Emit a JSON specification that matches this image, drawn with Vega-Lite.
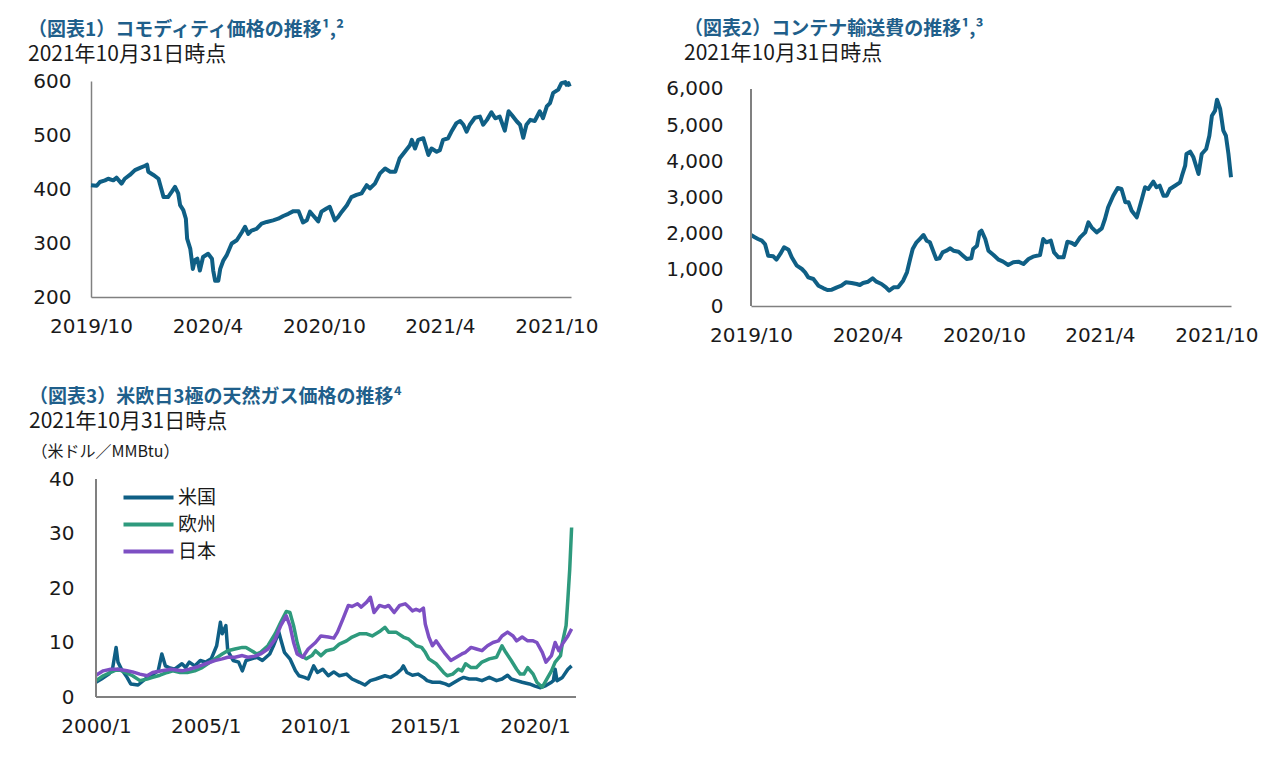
{
  "$schema": "https://vega.github.io/schema/vega-lite/v6.json",
  "autosize": {"type": "pad"},
  "padding": {"left": 28, "top": 19, "right": 5, "bottom": 5},
  "background": "white",
  "config": {
    "view": {"stroke": null},
    "font": "DejaVu Sans",
    "axis": {"ticks": false, "grid": false, "labelFont": "DejaVu Sans", "labelFontSize": 20, "labelColor": "#1a1a1a", "domainColor": "#808080", "domainWidth": 1.5, "labelFlush": false, "labelOverlap": false, "labelBound": false},
    "axisX": {"labelPadding": 19},
    "axisY": {"labelPadding": 20},
    "title": {"anchor": "start", "frame": "group", "font": "Noto Sans CJK JP", "fontSize": 19, "fontWeight": "bold", "color": "#1f5f8b", "subtitleFont": "Noto Sans CJK JP", "subtitleFontSize": 21, "subtitleColor": "#1a1a1a", "subtitlePadding": 4, "offset": 6}
  },
  "datasets": {
    "commodity": [
      {"date": "2019-10-01", "value": 407}, {"date": "2019-10-10", "value": 406}, {"date": "2019-10-15", "value": 413}, {"date": "2019-10-23", "value": 416},
      {"date": "2019-10-28", "value": 419}, {"date": "2019-11-05", "value": 416}, {"date": "2019-11-10", "value": 421}, {"date": "2019-11-18", "value": 410},
      {"date": "2019-11-23", "value": 419}, {"date": "2019-12-01", "value": 426}, {"date": "2019-12-09", "value": 435}, {"date": "2019-12-17", "value": 439},
      {"date": "2019-12-25", "value": 443}, {"date": "2019-12-28", "value": 445}, {"date": "2019-12-30", "value": 432}, {"date": "2020-01-07", "value": 426},
      {"date": "2020-01-15", "value": 419}, {"date": "2020-01-23", "value": 385}, {"date": "2020-01-30", "value": 385}, {"date": "2020-02-05", "value": 395},
      {"date": "2020-02-10", "value": 404}, {"date": "2020-02-15", "value": 392}, {"date": "2020-02-18", "value": 370}, {"date": "2020-02-23", "value": 361},
      {"date": "2020-02-27", "value": 345}, {"date": "2020-02-29", "value": 308}, {"date": "2020-03-05", "value": 289}, {"date": "2020-03-09", "value": 252},
      {"date": "2020-03-12", "value": 268}, {"date": "2020-03-16", "value": 271}, {"date": "2020-03-20", "value": 249}, {"date": "2020-03-25", "value": 274},
      {"date": "2020-04-02", "value": 280}, {"date": "2020-04-08", "value": 271}, {"date": "2020-04-10", "value": 249}, {"date": "2020-04-13", "value": 230},
      {"date": "2020-04-18", "value": 230}, {"date": "2020-04-21", "value": 252}, {"date": "2020-04-26", "value": 268}, {"date": "2020-05-01", "value": 277},
      {"date": "2020-05-09", "value": 299}, {"date": "2020-05-17", "value": 305}, {"date": "2020-05-25", "value": 320}, {"date": "2020-05-30", "value": 330},
      {"date": "2020-06-04", "value": 317}, {"date": "2020-06-09", "value": 323}, {"date": "2020-06-17", "value": 326}, {"date": "2020-06-25", "value": 336},
      {"date": "2020-07-03", "value": 339}, {"date": "2020-07-13", "value": 342}, {"date": "2020-07-21", "value": 345}, {"date": "2020-07-29", "value": 350},
      {"date": "2020-08-06", "value": 354}, {"date": "2020-08-14", "value": 359}, {"date": "2020-08-22", "value": 359}, {"date": "2020-08-29", "value": 338},
      {"date": "2020-09-04", "value": 342}, {"date": "2020-09-09", "value": 358}, {"date": "2020-09-14", "value": 351}, {"date": "2020-09-22", "value": 340},
      {"date": "2020-09-27", "value": 358}, {"date": "2020-10-05", "value": 364}, {"date": "2020-10-10", "value": 367}, {"date": "2020-10-18", "value": 342},
      {"date": "2020-10-23", "value": 348}, {"date": "2020-10-29", "value": 358}, {"date": "2020-11-06", "value": 370}, {"date": "2020-11-13", "value": 385},
      {"date": "2020-11-21", "value": 389}, {"date": "2020-11-29", "value": 392}, {"date": "2020-12-07", "value": 407}, {"date": "2020-12-12", "value": 401},
      {"date": "2020-12-20", "value": 410}, {"date": "2020-12-28", "value": 429}, {"date": "2021-01-05", "value": 438}, {"date": "2021-01-13", "value": 432},
      {"date": "2021-01-21", "value": 432}, {"date": "2021-01-28", "value": 457}, {"date": "2021-02-05", "value": 469}, {"date": "2021-02-13", "value": 481},
      {"date": "2021-02-16", "value": 491}, {"date": "2021-02-21", "value": 475}, {"date": "2021-02-26", "value": 491}, {"date": "2021-03-06", "value": 494},
      {"date": "2021-03-14", "value": 463}, {"date": "2021-03-19", "value": 475}, {"date": "2021-03-27", "value": 469}, {"date": "2021-04-01", "value": 472},
      {"date": "2021-04-06", "value": 491}, {"date": "2021-04-14", "value": 494}, {"date": "2021-04-19", "value": 506}, {"date": "2021-04-27", "value": 522},
      {"date": "2021-05-03", "value": 526}, {"date": "2021-05-08", "value": 519}, {"date": "2021-05-13", "value": 506}, {"date": "2021-05-18", "value": 519},
      {"date": "2021-05-26", "value": 532}, {"date": "2021-06-03", "value": 534}, {"date": "2021-06-08", "value": 519}, {"date": "2021-06-14", "value": 528},
      {"date": "2021-06-21", "value": 542}, {"date": "2021-06-27", "value": 531}, {"date": "2021-07-04", "value": 534}, {"date": "2021-07-12", "value": 508},
      {"date": "2021-07-18", "value": 544}, {"date": "2021-07-23", "value": 537}, {"date": "2021-07-31", "value": 525}, {"date": "2021-08-05", "value": 519},
      {"date": "2021-08-10", "value": 495}, {"date": "2021-08-15", "value": 519}, {"date": "2021-08-21", "value": 528}, {"date": "2021-08-28", "value": 526},
      {"date": "2021-09-05", "value": 544}, {"date": "2021-09-10", "value": 531}, {"date": "2021-09-16", "value": 553}, {"date": "2021-09-21", "value": 559},
      {"date": "2021-09-26", "value": 578}, {"date": "2021-10-04", "value": 584}, {"date": "2021-10-09", "value": 596}, {"date": "2021-10-15", "value": 598},
      {"date": "2021-10-17", "value": 593}, {"date": "2021-10-20", "value": 596}, {"date": "2021-10-22", "value": 590}
    ],
    "container": [
      {"date": "2019-10-01", "value": 1963}, {"date": "2019-10-07", "value": 1899}, {"date": "2019-10-12", "value": 1852}, {"date": "2019-10-18", "value": 1806},
      {"date": "2019-10-23", "value": 1714}, {"date": "2019-10-28", "value": 1392}, {"date": "2019-11-05", "value": 1373}, {"date": "2019-11-10", "value": 1281},
      {"date": "2019-11-16", "value": 1438}, {"date": "2019-11-22", "value": 1622}, {"date": "2019-11-29", "value": 1557}, {"date": "2019-12-04", "value": 1346},
      {"date": "2019-12-12", "value": 1115}, {"date": "2019-12-20", "value": 1023}, {"date": "2019-12-25", "value": 931}, {"date": "2019-12-30", "value": 793},
      {"date": "2020-01-07", "value": 746}, {"date": "2020-01-15", "value": 562}, {"date": "2020-01-23", "value": 489}, {"date": "2020-01-29", "value": 442},
      {"date": "2020-02-05", "value": 452}, {"date": "2020-02-13", "value": 516}, {"date": "2020-02-20", "value": 562}, {"date": "2020-02-27", "value": 655},
      {"date": "2020-03-07", "value": 636}, {"date": "2020-03-15", "value": 608}, {"date": "2020-03-20", "value": 580}, {"date": "2020-03-25", "value": 636},
      {"date": "2020-04-02", "value": 672}, {"date": "2020-04-09", "value": 765}, {"date": "2020-04-15", "value": 672}, {"date": "2020-04-23", "value": 608},
      {"date": "2020-04-30", "value": 516}, {"date": "2020-05-05", "value": 424}, {"date": "2020-05-12", "value": 516}, {"date": "2020-05-19", "value": 516},
      {"date": "2020-05-27", "value": 700}, {"date": "2020-06-02", "value": 931}, {"date": "2020-06-07", "value": 1299}, {"date": "2020-06-11", "value": 1576},
      {"date": "2020-06-17", "value": 1761}, {"date": "2020-06-22", "value": 1852}, {"date": "2020-06-28", "value": 1963}, {"date": "2020-07-03", "value": 1806},
      {"date": "2020-07-08", "value": 1761}, {"date": "2020-07-12", "value": 1576}, {"date": "2020-07-18", "value": 1299}, {"date": "2020-07-23", "value": 1318},
      {"date": "2020-07-28", "value": 1484}, {"date": "2020-08-03", "value": 1529}, {"date": "2020-08-09", "value": 1595}, {"date": "2020-08-14", "value": 1529},
      {"date": "2020-08-22", "value": 1502}, {"date": "2020-08-29", "value": 1392}, {"date": "2020-09-04", "value": 1299}, {"date": "2020-09-11", "value": 1318},
      {"date": "2020-09-14", "value": 1576}, {"date": "2020-09-20", "value": 1667}, {"date": "2020-09-24", "value": 2037}, {"date": "2020-09-27", "value": 2083},
      {"date": "2020-10-03", "value": 1852}, {"date": "2020-10-08", "value": 1529}, {"date": "2020-10-16", "value": 1410}, {"date": "2020-10-24", "value": 1280},
      {"date": "2020-10-31", "value": 1226}, {"date": "2020-11-08", "value": 1134}, {"date": "2020-11-16", "value": 1207}, {"date": "2020-11-24", "value": 1226},
      {"date": "2020-12-02", "value": 1161}, {"date": "2020-12-10", "value": 1299}, {"date": "2020-12-17", "value": 1364}, {"date": "2020-12-28", "value": 1410},
      {"date": "2021-01-02", "value": 1852}, {"date": "2021-01-07", "value": 1761}, {"date": "2021-01-14", "value": 1806}, {"date": "2021-01-19", "value": 1484},
      {"date": "2021-01-26", "value": 1346}, {"date": "2021-02-03", "value": 1346}, {"date": "2021-02-09", "value": 1778}, {"date": "2021-02-16", "value": 1742},
      {"date": "2021-02-21", "value": 1686}, {"date": "2021-03-01", "value": 1899}, {"date": "2021-03-09", "value": 2037}, {"date": "2021-03-14", "value": 2314},
      {"date": "2021-03-19", "value": 2176}, {"date": "2021-03-27", "value": 2037}, {"date": "2021-04-04", "value": 2148}, {"date": "2021-04-09", "value": 2405},
      {"date": "2021-04-14", "value": 2729}, {"date": "2021-04-22", "value": 3050}, {"date": "2021-04-29", "value": 3262}, {"date": "2021-05-05", "value": 3235},
      {"date": "2021-05-11", "value": 2867}, {"date": "2021-05-16", "value": 2867}, {"date": "2021-05-21", "value": 2635}, {"date": "2021-05-29", "value": 2452},
      {"date": "2021-06-06", "value": 2958}, {"date": "2021-06-11", "value": 3282}, {"date": "2021-06-16", "value": 3235}, {"date": "2021-06-24", "value": 3437},
      {"date": "2021-06-29", "value": 3282}, {"date": "2021-07-04", "value": 3326}, {"date": "2021-07-10", "value": 3050}, {"date": "2021-07-15", "value": 3050},
      {"date": "2021-07-20", "value": 3235}, {"date": "2021-07-28", "value": 3326}, {"date": "2021-08-05", "value": 3420}, {"date": "2021-08-08", "value": 3603},
      {"date": "2021-08-13", "value": 3879}, {"date": "2021-08-15", "value": 4202}, {"date": "2021-08-21", "value": 4266}, {"date": "2021-08-26", "value": 4111},
      {"date": "2021-09-03", "value": 3650}, {"date": "2021-09-08", "value": 4202}, {"date": "2021-09-15", "value": 4341}, {"date": "2021-09-20", "value": 4708},
      {"date": "2021-09-24", "value": 5261}, {"date": "2021-09-29", "value": 5400}, {"date": "2021-10-02", "value": 5704}, {"date": "2021-10-07", "value": 5447},
      {"date": "2021-10-12", "value": 4847}, {"date": "2021-10-16", "value": 4708}, {"date": "2021-10-20", "value": 4202}, {"date": "2021-10-24", "value": 3558}
    ],
    "gas": [
      {"date": "2000-01-01", "region": "米国", "value": 2.7}, {"date": "2000-04-01", "region": "米国", "value": 3.3}, {"date": "2000-08-01", "region": "米国", "value": 4.2},
      {"date": "2000-10-01", "region": "米国", "value": 5.1}, {"date": "2000-12-01", "region": "米国", "value": 9.1}, {"date": "2001-01-01", "region": "米国", "value": 6.4},
      {"date": "2001-03-01", "region": "米国", "value": 5.1}, {"date": "2001-06-01", "region": "米国", "value": 3.6}, {"date": "2001-08-01", "region": "米国", "value": 2.4},
      {"date": "2001-12-01", "region": "米国", "value": 2.2}, {"date": "2002-04-01", "region": "米国", "value": 3.3}, {"date": "2002-07-01", "region": "米国", "value": 3.9},
      {"date": "2002-11-01", "region": "米国", "value": 4.8}, {"date": "2003-01-01", "region": "米国", "value": 7.9}, {"date": "2003-03-01", "region": "米国", "value": 5.7},
      {"date": "2003-05-01", "region": "米国", "value": 5.4}, {"date": "2003-08-01", "region": "米国", "value": 5.1}, {"date": "2003-12-01", "region": "米国", "value": 6.1},
      {"date": "2004-02-01", "region": "米国", "value": 5.4}, {"date": "2004-04-01", "region": "米国", "value": 6.4}, {"date": "2004-07-01", "region": "米国", "value": 5.7},
      {"date": "2004-10-01", "region": "米国", "value": 6.7}, {"date": "2005-01-01", "region": "米国", "value": 6.4}, {"date": "2005-04-01", "region": "米国", "value": 7.0},
      {"date": "2005-07-01", "region": "米国", "value": 9.4}, {"date": "2005-09-01", "region": "米国", "value": 13.7}, {"date": "2005-10-01", "region": "米国", "value": 11.6},
      {"date": "2005-12-01", "region": "米国", "value": 13.1}, {"date": "2006-01-01", "region": "米国", "value": 8.5}, {"date": "2006-04-01", "region": "米国", "value": 6.7},
      {"date": "2006-07-01", "region": "米国", "value": 6.4}, {"date": "2006-09-01", "region": "米国", "value": 4.8}, {"date": "2006-11-01", "region": "米国", "value": 6.7},
      {"date": "2007-02-01", "region": "米国", "value": 7.0}, {"date": "2007-05-01", "region": "米国", "value": 7.3}, {"date": "2007-08-01", "region": "米国", "value": 6.7},
      {"date": "2007-12-01", "region": "米国", "value": 7.9}, {"date": "2008-02-01", "region": "米国", "value": 9.4}, {"date": "2008-05-01", "region": "米国", "value": 11.9},
      {"date": "2008-06-01", "region": "米国", "value": 10.6}, {"date": "2008-08-01", "region": "米国", "value": 8.2}, {"date": "2008-11-01", "region": "米国", "value": 7.0},
      {"date": "2009-02-01", "region": "米国", "value": 4.8}, {"date": "2009-04-01", "region": "米国", "value": 3.9}, {"date": "2009-07-01", "region": "米国", "value": 3.6},
      {"date": "2009-09-01", "region": "米国", "value": 3.3}, {"date": "2009-12-01", "region": "米国", "value": 5.7}, {"date": "2010-02-01", "region": "米国", "value": 4.5},
      {"date": "2010-05-01", "region": "米国", "value": 5.1}, {"date": "2010-08-01", "region": "米国", "value": 3.9}, {"date": "2010-11-01", "region": "米国", "value": 4.6},
      {"date": "2011-02-01", "region": "米国", "value": 3.9}, {"date": "2011-06-01", "region": "米国", "value": 4.2}, {"date": "2011-09-01", "region": "米国", "value": 3.3},
      {"date": "2012-01-01", "region": "米国", "value": 2.7}, {"date": "2012-04-01", "region": "米国", "value": 2.2}, {"date": "2012-07-01", "region": "米国", "value": 3.0},
      {"date": "2012-10-01", "region": "米国", "value": 3.3}, {"date": "2013-03-01", "region": "米国", "value": 3.9}, {"date": "2013-06-01", "region": "米国", "value": 3.6},
      {"date": "2013-09-01", "region": "米国", "value": 4.2}, {"date": "2013-12-01", "region": "米国", "value": 5.1}, {"date": "2014-01-01", "region": "米国", "value": 5.7},
      {"date": "2014-03-01", "region": "米国", "value": 4.5}, {"date": "2014-06-01", "region": "米国", "value": 4.0}, {"date": "2014-09-01", "region": "米国", "value": 4.2},
      {"date": "2014-12-01", "region": "米国", "value": 3.6}, {"date": "2015-02-01", "region": "米国", "value": 3.0}, {"date": "2015-05-01", "region": "米国", "value": 2.7},
      {"date": "2015-09-01", "region": "米国", "value": 2.7}, {"date": "2015-12-01", "region": "米国", "value": 2.4}, {"date": "2016-02-01", "region": "米国", "value": 2.1},
      {"date": "2016-05-01", "region": "米国", "value": 2.7}, {"date": "2016-08-01", "region": "米国", "value": 3.3}, {"date": "2016-10-01", "region": "米国", "value": 3.6},
      {"date": "2017-01-01", "region": "米国", "value": 3.3}, {"date": "2017-05-01", "region": "米国", "value": 3.3}, {"date": "2017-08-01", "region": "米国", "value": 3.0},
      {"date": "2017-12-01", "region": "米国", "value": 3.6}, {"date": "2018-04-01", "region": "米国", "value": 3.0}, {"date": "2018-07-01", "region": "米国", "value": 3.3},
      {"date": "2018-10-01", "region": "米国", "value": 4.0}, {"date": "2018-12-01", "region": "米国", "value": 3.3}, {"date": "2019-03-01", "region": "米国", "value": 3.0},
      {"date": "2019-06-01", "region": "米国", "value": 2.7}, {"date": "2019-10-01", "region": "米国", "value": 2.4}, {"date": "2020-01-01", "region": "米国", "value": 2.0},
      {"date": "2020-04-01", "region": "米国", "value": 1.7}, {"date": "2020-07-01", "region": "米国", "value": 2.1}, {"date": "2020-10-01", "region": "米国", "value": 2.7},
      {"date": "2020-11-01", "region": "米国", "value": 3.0}, {"date": "2020-12-01", "region": "米国", "value": 5.1}, {"date": "2021-01-01", "region": "米国", "value": 3.0},
      {"date": "2021-04-01", "region": "米国", "value": 3.6}, {"date": "2021-07-01", "region": "米国", "value": 5.1}, {"date": "2021-09-01", "region": "米国", "value": 5.7},

      {"date": "2000-01-01", "region": "欧州", "value": 3.0}, {"date": "2000-05-01", "region": "欧州", "value": 3.9}, {"date": "2000-09-01", "region": "欧州", "value": 4.5},
      {"date": "2001-01-01", "region": "欧州", "value": 5.1}, {"date": "2001-05-01", "region": "欧州", "value": 4.5}, {"date": "2001-09-01", "region": "欧州", "value": 3.9},
      {"date": "2002-01-01", "region": "欧州", "value": 3.0}, {"date": "2002-05-01", "region": "欧州", "value": 3.3}, {"date": "2002-08-01", "region": "欧州", "value": 3.6},
      {"date": "2002-12-01", "region": "欧州", "value": 4.0}, {"date": "2003-04-01", "region": "欧州", "value": 4.5}, {"date": "2003-07-01", "region": "欧州", "value": 4.8},
      {"date": "2003-11-01", "region": "欧州", "value": 4.5}, {"date": "2004-03-01", "region": "欧州", "value": 4.5}, {"date": "2004-07-01", "region": "欧州", "value": 4.8},
      {"date": "2004-11-01", "region": "欧州", "value": 5.4}, {"date": "2005-02-01", "region": "欧州", "value": 6.1}, {"date": "2005-06-01", "region": "欧州", "value": 7.0},
      {"date": "2005-10-01", "region": "欧州", "value": 7.9}, {"date": "2006-01-01", "region": "欧州", "value": 8.5}, {"date": "2006-05-01", "region": "欧州", "value": 8.8},
      {"date": "2006-09-01", "region": "欧州", "value": 9.1}, {"date": "2006-11-01", "region": "欧州", "value": 9.1}, {"date": "2007-02-01", "region": "欧州", "value": 8.5},
      {"date": "2007-05-01", "region": "欧州", "value": 7.9}, {"date": "2007-07-01", "region": "欧州", "value": 8.2}, {"date": "2007-11-01", "region": "欧州", "value": 9.4},
      {"date": "2008-03-01", "region": "欧州", "value": 11.6}, {"date": "2008-06-01", "region": "欧州", "value": 13.7}, {"date": "2008-09-01", "region": "欧州", "value": 15.7},
      {"date": "2008-11-01", "region": "欧州", "value": 15.5}, {"date": "2009-01-01", "region": "欧州", "value": 13.1}, {"date": "2009-03-01", "region": "欧州", "value": 10.0},
      {"date": "2009-05-01", "region": "欧州", "value": 7.6}, {"date": "2009-08-01", "region": "欧州", "value": 7.0}, {"date": "2009-11-01", "region": "欧州", "value": 7.6},
      {"date": "2010-01-01", "region": "欧州", "value": 8.5}, {"date": "2010-04-01", "region": "欧州", "value": 7.6}, {"date": "2010-07-01", "region": "欧州", "value": 8.5},
      {"date": "2010-11-01", "region": "欧州", "value": 8.8}, {"date": "2011-02-01", "region": "欧州", "value": 9.7}, {"date": "2011-06-01", "region": "欧州", "value": 10.3},
      {"date": "2011-09-01", "region": "欧州", "value": 11.0}, {"date": "2012-01-01", "region": "欧州", "value": 11.6}, {"date": "2012-05-01", "region": "欧州", "value": 11.6},
      {"date": "2012-08-01", "region": "欧州", "value": 11.2}, {"date": "2012-12-01", "region": "欧州", "value": 12.0}, {"date": "2013-03-01", "region": "欧州", "value": 12.8},
      {"date": "2013-05-01", "region": "欧州", "value": 11.9}, {"date": "2013-09-01", "region": "欧州", "value": 11.9}, {"date": "2014-01-01", "region": "欧州", "value": 11.0},
      {"date": "2014-04-01", "region": "欧州", "value": 10.6}, {"date": "2014-08-01", "region": "欧州", "value": 9.4}, {"date": "2014-11-01", "region": "欧州", "value": 9.1},
      {"date": "2015-01-01", "region": "欧州", "value": 8.2}, {"date": "2015-03-01", "region": "欧州", "value": 7.0}, {"date": "2015-07-01", "region": "欧州", "value": 6.1},
      {"date": "2015-11-01", "region": "欧州", "value": 4.5}, {"date": "2016-01-01", "region": "欧州", "value": 3.9}, {"date": "2016-04-01", "region": "欧州", "value": 4.2},
      {"date": "2016-07-01", "region": "欧州", "value": 5.1}, {"date": "2016-09-01", "region": "欧州", "value": 4.8}, {"date": "2016-11-01", "region": "欧州", "value": 6.1},
      {"date": "2017-02-01", "region": "欧州", "value": 5.4}, {"date": "2017-05-01", "region": "欧州", "value": 5.4}, {"date": "2017-08-01", "region": "欧州", "value": 6.4},
      {"date": "2017-12-01", "region": "欧州", "value": 7.0}, {"date": "2018-04-01", "region": "欧州", "value": 7.3}, {"date": "2018-07-01", "region": "欧州", "value": 9.4},
      {"date": "2018-09-01", "region": "欧州", "value": 8.2}, {"date": "2018-12-01", "region": "欧州", "value": 6.7}, {"date": "2019-03-01", "region": "欧州", "value": 5.1},
      {"date": "2019-05-01", "region": "欧州", "value": 4.2}, {"date": "2019-07-01", "region": "欧州", "value": 4.2}, {"date": "2019-09-01", "region": "欧州", "value": 5.4},
      {"date": "2019-12-01", "region": "欧州", "value": 4.2}, {"date": "2020-02-01", "region": "欧州", "value": 2.7}, {"date": "2020-05-01", "region": "欧州", "value": 1.8},
      {"date": "2020-07-01", "region": "欧州", "value": 3.0}, {"date": "2020-10-01", "region": "欧州", "value": 4.8}, {"date": "2020-12-01", "region": "欧州", "value": 6.4},
      {"date": "2021-03-01", "region": "欧州", "value": 7.6}, {"date": "2021-04-01", "region": "欧州", "value": 10.0}, {"date": "2021-06-01", "region": "欧州", "value": 13.1},
      {"date": "2021-07-01", "region": "欧州", "value": 18.0}, {"date": "2021-08-01", "region": "欧州", "value": 23.5}, {"date": "2021-09-01", "region": "欧州", "value": 31.1},

      {"date": "2000-01-01", "region": "日本", "value": 4.0}, {"date": "2000-05-01", "region": "日本", "value": 4.8}, {"date": "2000-09-01", "region": "日本", "value": 5.1},
      {"date": "2001-01-01", "region": "日本", "value": 5.1}, {"date": "2001-06-01", "region": "日本", "value": 4.8}, {"date": "2001-09-01", "region": "日本", "value": 4.6},
      {"date": "2002-01-01", "region": "日本", "value": 4.2}, {"date": "2002-05-01", "region": "日本", "value": 3.9}, {"date": "2002-08-01", "region": "日本", "value": 4.5},
      {"date": "2003-01-01", "region": "日本", "value": 4.8}, {"date": "2003-06-01", "region": "日本", "value": 5.1}, {"date": "2003-12-01", "region": "日本", "value": 4.8},
      {"date": "2004-04-01", "region": "日本", "value": 5.1}, {"date": "2004-09-01", "region": "日本", "value": 5.6}, {"date": "2005-01-01", "region": "日本", "value": 6.1},
      {"date": "2005-06-01", "region": "日本", "value": 6.7}, {"date": "2005-10-01", "region": "日本", "value": 7.0}, {"date": "2006-01-01", "region": "日本", "value": 7.3},
      {"date": "2006-05-01", "region": "日本", "value": 7.3}, {"date": "2006-09-01", "region": "日本", "value": 7.6}, {"date": "2006-12-01", "region": "日本", "value": 7.3},
      {"date": "2007-04-01", "region": "日本", "value": 7.5}, {"date": "2007-07-01", "region": "日本", "value": 7.9}, {"date": "2007-11-01", "region": "日本", "value": 8.8},
      {"date": "2008-03-01", "region": "日本", "value": 10.6}, {"date": "2008-06-01", "region": "日本", "value": 13.1}, {"date": "2008-09-01", "region": "日本", "value": 14.9},
      {"date": "2008-11-01", "region": "日本", "value": 13.1}, {"date": "2009-01-01", "region": "日本", "value": 10.0}, {"date": "2009-03-01", "region": "日本", "value": 7.9},
      {"date": "2009-06-01", "region": "日本", "value": 7.3}, {"date": "2009-09-01", "region": "日本", "value": 8.8}, {"date": "2010-01-01", "region": "日本", "value": 10.0},
      {"date": "2010-04-01", "region": "日本", "value": 11.2}, {"date": "2010-08-01", "region": "日本", "value": 11.0}, {"date": "2010-11-01", "region": "日本", "value": 10.8},
      {"date": "2011-01-01", "region": "日本", "value": 11.9}, {"date": "2011-04-01", "region": "日本", "value": 14.3}, {"date": "2011-07-01", "region": "日本", "value": 16.8},
      {"date": "2011-09-01", "region": "日本", "value": 16.6}, {"date": "2011-12-01", "region": "日本", "value": 17.1}, {"date": "2012-02-01", "region": "日本", "value": 16.5},
      {"date": "2012-05-01", "region": "日本", "value": 17.4}, {"date": "2012-07-01", "region": "日本", "value": 18.3}, {"date": "2012-09-01", "region": "日本", "value": 15.5},
      {"date": "2012-12-01", "region": "日本", "value": 16.8}, {"date": "2013-03-01", "region": "日本", "value": 16.5}, {"date": "2013-05-01", "region": "日本", "value": 16.8},
      {"date": "2013-08-01", "region": "日本", "value": 15.5}, {"date": "2013-11-01", "region": "日本", "value": 16.8}, {"date": "2014-02-01", "region": "日本", "value": 17.1},
      {"date": "2014-04-01", "region": "日本", "value": 16.5}, {"date": "2014-06-01", "region": "日本", "value": 15.8}, {"date": "2014-08-01", "region": "日本", "value": 16.1},
      {"date": "2014-10-01", "region": "日本", "value": 15.8}, {"date": "2014-12-01", "region": "日本", "value": 16.3}, {"date": "2015-01-01", "region": "日本", "value": 13.4},
      {"date": "2015-03-01", "region": "日本", "value": 11.0}, {"date": "2015-05-01", "region": "日本", "value": 9.4}, {"date": "2015-07-01", "region": "日本", "value": 10.3},
      {"date": "2015-10-01", "region": "日本", "value": 8.8}, {"date": "2015-12-01", "region": "日本", "value": 7.9}, {"date": "2016-03-01", "region": "日本", "value": 6.7},
      {"date": "2016-06-01", "region": "日本", "value": 7.3}, {"date": "2016-09-01", "region": "日本", "value": 7.9}, {"date": "2016-11-01", "region": "日本", "value": 8.2},
      {"date": "2017-02-01", "region": "日本", "value": 9.1}, {"date": "2017-05-01", "region": "日本", "value": 8.8}, {"date": "2017-08-01", "region": "日本", "value": 8.5},
      {"date": "2017-11-01", "region": "日本", "value": 9.4}, {"date": "2018-02-01", "region": "日本", "value": 10.0}, {"date": "2018-05-01", "region": "日本", "value": 10.3},
      {"date": "2018-07-01", "region": "日本", "value": 11.2}, {"date": "2018-10-01", "region": "日本", "value": 11.9}, {"date": "2019-01-01", "region": "日本", "value": 11.2},
      {"date": "2019-03-01", "region": "日本", "value": 10.3}, {"date": "2019-06-01", "region": "日本", "value": 11.0}, {"date": "2019-09-01", "region": "日本", "value": 10.3},
      {"date": "2019-12-01", "region": "日本", "value": 10.3}, {"date": "2020-02-01", "region": "日本", "value": 10.0}, {"date": "2020-05-01", "region": "日本", "value": 8.2},
      {"date": "2020-07-01", "region": "日本", "value": 6.4}, {"date": "2020-10-01", "region": "日本", "value": 7.6}, {"date": "2020-12-01", "region": "日本", "value": 10.0},
      {"date": "2021-02-01", "region": "日本", "value": 8.5}, {"date": "2021-04-01", "region": "日本", "value": 9.7}, {"date": "2021-07-01", "region": "日本", "value": 11.2},
      {"date": "2021-09-01", "region": "日本", "value": 12.5}
    ]
  },
  "columns": 2,
  "spacing": {"row": 173, "column": 175},
  "bounds": "flush",
  "resolve": {"legend": {"color": "independent"}, "scale": {"color": "independent"}},
  "concat": [
    {
      "width": 480,
      "height": 216,
      "title": {"text": "（図表1）コモディティ価格の推移¹,²", "subtitle": "2021年10月31日時点", "dx": -63},
      "data": {"name": "commodity"},
      "mark": {"type": "line", "color": "#0f5f85", "strokeWidth": 4, "strokeJoin": "round"},
      "encoding": {
        "x": {"field": "date", "type": "temporal", "title": null,
          "scale": {"type": "utc", "domain": [{"year": 2019, "month": 10, "date": 1, "utc": true}, {"year": 2021, "month": 10, "date": 24, "utc": true}]},
          "axis": {"format": "%Y/%-m", "values": [{"year": 2019, "month": 10, "date": 1, "utc": true}, {"year": 2020, "month": 4, "date": 1, "utc": true}, {"year": 2020, "month": 10, "date": 1, "utc": true}, {"year": 2021, "month": 4, "date": 1, "utc": true}, {"year": 2021, "month": 10, "date": 1, "utc": true}]}},
        "y": {"field": "value", "type": "quantitative", "title": null,
          "scale": {"domain": [200, 600], "nice": false, "zero": false},
          "axis": {"values": [200, 300, 400, 500, 600]}}
      }
    },
    {
      "width": 480,
      "height": 225,
      "title": {"text": "（図表2）コンテナ輸送費の推移¹,³", "subtitle": "2021年10月31日時点", "dx": -67, "offset": 15},
      "data": {"name": "container"},
      "layer": [
        {
          "mark": {"type": "line", "color": "#0f5f85", "strokeWidth": 4, "strokeJoin": "round"},
          "encoding": {
            "x": {"field": "date", "type": "temporal", "title": null,
              "scale": {"type": "utc", "domain": [{"year": 2019, "month": 10, "date": 1, "utc": true}, {"year": 2021, "month": 10, "date": 24, "utc": true}]},
              "axis": {"format": "%Y/%-m", "values": [{"year": 2019, "month": 10, "date": 1, "utc": true}, {"year": 2020, "month": 4, "date": 1, "utc": true}, {"year": 2020, "month": 10, "date": 1, "utc": true}, {"year": 2021, "month": 4, "date": 1, "utc": true}, {"year": 2021, "month": 10, "date": 1, "utc": true}]}},
            "y": {"field": "value", "type": "quantitative", "title": null,
              "scale": {"domain": [0, 6221], "nice": false},
              "axis": {"values": [0, 1000, 2000, 3000, 4000, 5000, 6000], "format": ",.0f", "domain": false, "labelPadding": 28}}
          }
        },
        {
          "mark": {"type": "rule", "color": "#808080", "strokeWidth": 1.5},
          "encoding": {
            "x": {"datum": {"year": 2019, "month": 10, "date": 1, "utc": true}, "type": "temporal", "title": null,
              "scale": {"type": "utc", "domain": [{"year": 2019, "month": 10, "date": 1, "utc": true}, {"year": 2021, "month": 10, "date": 24, "utc": true}]},
              "axis": {"format": "%Y/%-m", "values": [{"year": 2019, "month": 10, "date": 1, "utc": true}, {"year": 2020, "month": 4, "date": 1, "utc": true}, {"year": 2020, "month": 10, "date": 1, "utc": true}, {"year": 2021, "month": 4, "date": 1, "utc": true}, {"year": 2021, "month": 10, "date": 1, "utc": true}]}},
            "y": {"datum": 0, "type": "quantitative", "title": null,
              "scale": {"domain": [0, 6221], "nice": false},
              "axis": {"values": [0, 1000, 2000, 3000, 4000, 5000, 6000], "format": ",.0f", "domain": false, "labelPadding": 28}},
            "y2": {"datum": 6000}
          }
        }
      ]
    },
    {
      "width": 485,
      "height": 218,
      "title": {"text": "（図表3）米欧日3極の天然ガス価格の推移⁴", "subtitle": "2021年10月31日時点", "dx": -62, "offset": 11},
      "data": {"name": "gas"},
      "layer": [
        {
          "mark": {"type": "line", "strokeWidth": 3.5, "strokeJoin": "round"},
          "encoding": {
            "x": {"field": "date", "type": "temporal", "title": null,
              "scale": {"type": "utc", "domain": [{"year": 1999, "month": 10, "date": 10, "utc": true}, {"year": 2021, "month": 11, "date": 13, "utc": true}]},
              "axis": {"format": "%Y/%-m", "domain": false, "values": [{"year": 2000, "month": 1, "date": 1, "utc": true}, {"year": 2005, "month": 1, "date": 1, "utc": true}, {"year": 2010, "month": 1, "date": 1, "utc": true}, {"year": 2015, "month": 1, "date": 1, "utc": true}, {"year": 2020, "month": 1, "date": 1, "utc": true}]}},
            "y": {"field": "value", "type": "quantitative", "title": "（米ドル／MMBtu）",
              "scale": {"domain": [0, 40], "nice": false},
              "axis": {"values": [0, 10, 20, 30, 40], "domain": false, "labelPadding": 17, "titleAngle": 0, "titleAlign": "left", "titleBaseline": "middle", "titleX": -60, "titleY": -28, "titleFont": "Noto Sans CJK JP", "titleFontSize": 16, "titleFontWeight": "normal", "titleColor": "#1a1a1a"}},
            "color": {"field": "region", "type": "nominal",
              "scale": {"domain": ["米国", "欧州", "日本"], "range": ["#0f5f85", "#2e9a7d", "#7d4fc3"]},
              "legend": {"title": null, "orient": "none", "legendX": 48, "legendY": 9, "direction": "vertical", "symbolType": "M-5,0H5", "symbolSize": 100, "symbolStrokeWidth": 4, "labelFont": "Noto Sans CJK JP", "labelFontSize": 19, "labelColor": "#1a1a1a", "labelOffset": 20, "rowPadding": 7}}
          }
        },
        {
          "mark": {"type": "rule", "color": "#808080", "strokeWidth": 1.5},
          "encoding": {
            "x": {"datum": {"year": 2000, "month": 1, "date": 1, "utc": true}, "type": "temporal", "title": null,
              "scale": {"type": "utc", "domain": [{"year": 1999, "month": 10, "date": 10, "utc": true}, {"year": 2021, "month": 11, "date": 13, "utc": true}]},
              "axis": {"format": "%Y/%-m", "domain": false, "values": [{"year": 2000, "month": 1, "date": 1, "utc": true}, {"year": 2005, "month": 1, "date": 1, "utc": true}, {"year": 2010, "month": 1, "date": 1, "utc": true}, {"year": 2015, "month": 1, "date": 1, "utc": true}, {"year": 2020, "month": 1, "date": 1, "utc": true}]}},
            "y": {"datum": 0, "type": "quantitative", "title": "（米ドル／MMBtu）",
              "scale": {"domain": [0, 40], "nice": false},
              "axis": {"values": [0, 10, 20, 30, 40], "domain": false, "labelPadding": 17, "titleAngle": 0, "titleAlign": "left", "titleBaseline": "middle", "titleX": -60, "titleY": -28, "titleFont": "Noto Sans CJK JP", "titleFontSize": 16, "titleFontWeight": "normal", "titleColor": "#1a1a1a"}},
            "y2": {"datum": 40}
          }
        },
        {
          "mark": {"type": "rule", "color": "#808080", "strokeWidth": 1.5},
          "encoding": {
            "x": {"datum": {"year": 2000, "month": 1, "date": 1, "utc": true}, "type": "temporal", "title": null,
              "scale": {"type": "utc", "domain": [{"year": 1999, "month": 10, "date": 10, "utc": true}, {"year": 2021, "month": 11, "date": 13, "utc": true}]},
              "axis": {"format": "%Y/%-m", "domain": false, "values": [{"year": 2000, "month": 1, "date": 1, "utc": true}, {"year": 2005, "month": 1, "date": 1, "utc": true}, {"year": 2010, "month": 1, "date": 1, "utc": true}, {"year": 2015, "month": 1, "date": 1, "utc": true}, {"year": 2020, "month": 1, "date": 1, "utc": true}]}},
            "x2": {"datum": {"year": 2021, "month": 11, "date": 13, "utc": true}},
            "y": {"datum": 0, "type": "quantitative", "title": "（米ドル／MMBtu）",
              "scale": {"domain": [0, 40], "nice": false},
              "axis": {"values": [0, 10, 20, 30, 40], "domain": false, "labelPadding": 17, "titleAngle": 0, "titleAlign": "left", "titleBaseline": "middle", "titleX": -60, "titleY": -28, "titleFont": "Noto Sans CJK JP", "titleFontSize": 16, "titleFontWeight": "normal", "titleColor": "#1a1a1a"}}
          }
        }
      ]
    }
  ]
}
